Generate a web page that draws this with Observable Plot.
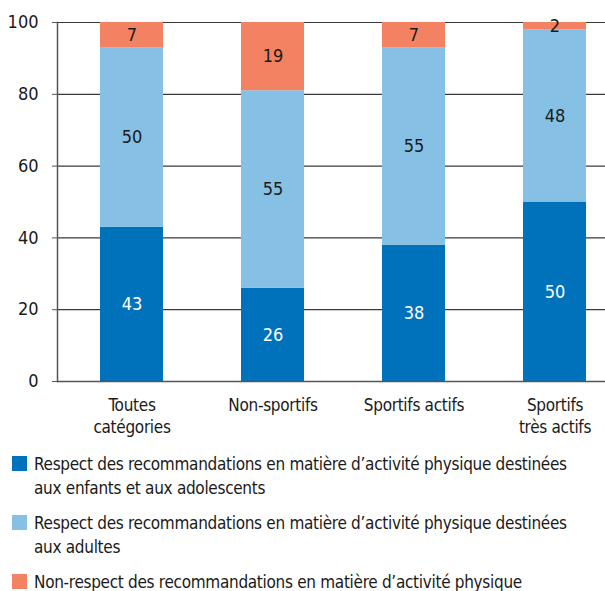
<!DOCTYPE html>
<html>
<head>
<meta charset="utf-8">
<script src="https://cdn.jsdelivr.net/npm/d3@7"></script>
<script src="https://cdn.jsdelivr.net/npm/@observablehq/plot@0.6"></script>
<style>
  body { margin: 0; background: #fff; }
  #chart { width: 605px; font-family: "DejaVu Sans Condensed", "Liberation Sans Narrow", "Open Sans", sans-serif; color: #1a1a1a; }
  .legend { margin-top: 2px; }
  .item { position: relative; padding-left: 34px; font-size: 17px; letter-spacing: -0.3px; line-height: 24px; white-space: nowrap; margin-bottom: 11px; }
  .sw { position: absolute; left: 12px; top: 4px; width: 15px; height: 15px; }
</style>
</head>
<body>
<div id="chart"></div>
<script>
const categories = ["Toutes catégories", "Non-sportifs", "Sportifs actifs", "Sportifs très actifs"];
const tickLabels = ["Toutes\ncatégories", "Non-sportifs", "Sportifs actifs", "Sportifs\ntrès actifs"];
const seriesNames = [
  "Respect des recommandations en matière d’activité physique destinées aux enfants et aux adolescents",
  "Respect des recommandations en matière d’activité physique destinées aux adultes",
  "Non-respect des recommandations en matière d’activité physique"
];
const legendLines = [
  ["Respect des recommandations en matière d’activité physique destinées", "aux enfants et aux adolescents"],
  ["Respect des recommandations en matière d’activité physique destinées", "aux adultes"],
  ["Non-respect des recommandations en matière d’activité physique"]
];
const enfants = [43, 26, 38, 50];
const adultes = [50, 55, 55, 48];
const nonRespect = [7, 19, 7, 2];
const yTicks = [0, 20, 40, 60, 80, 100];
const colors = ["#0072bc", "#86c1e5", "#f28262"];

const valuesBySeries = [enfants, adultes, nonRespect];
const data = [];
categories.forEach((c, i) => {
  seriesNames.forEach((s, j) => data.push({cat: c, series: s, value: valuesBySeries[j][i]}));
});

const font = '"DejaVu Sans Condensed", "Liberation Sans Narrow", "Open Sans", sans-serif';

const chart = Plot.plot({
  width: 605,
  height: 450,
  marginLeft: 57,
  marginRight: 0,
  marginTop: 22,
  marginBottom: 69,
  style: {fontFamily: font, fontSize: "17px", color: "#1a1a1a", background: "white"},
  x: {domain: categories, range: [28, 657], paddingInner: 0.555, paddingOuter: 0.5, axis: null},
  y: {domain: [0, 100], axis: null},
  color: {domain: seriesNames, range: colors},
  marks: [
    Plot.ruleY(yTicks.filter(d => d > 0), {stroke: "#3a3a3a", strokeWidth: 1.2}),
    Plot.barY(data, {x: "cat", y: "value", fill: "series", z: "series", order: seriesNames}),
    Plot.text(data, Plot.stackY({x: "cat", y: "value", z: "series", order: seriesNames,
      text: d => d.series === seriesNames[0] ? String(d.value) : "", fill: "white", fontSize: 18})),
    Plot.text(data, Plot.stackY({x: "cat", y: "value", z: "series", order: seriesNames,
      text: d => d.series !== seriesNames[0] ? String(d.value) : "", fill: "#1a1a1a", fontSize: 18})),
    Plot.ruleY([0], {stroke: "#555", strokeWidth: 1.5}),
    Plot.frame({anchor: "left", stroke: "#555", strokeWidth: 1.5}),
    Plot.axisY({ticks: yTicks, tickSize: 5, tickPadding: 14, stroke: "#555", label: null, fontSize: 18}),
    Plot.axisX({tickSize: 0, tickPadding: 14, label: null, fontSize: 17, lineHeight: 1.3,
      tickFormat: d => tickLabels[categories.indexOf(d)]})
  ]
});
chart.querySelectorAll("g[aria-label='x-axis tick label'] text").forEach(t => t.style.letterSpacing = "-0.3px");
document.getElementById("chart").appendChild(chart);

const legend = document.createElement("div");
legend.className = "legend";
seriesNames.forEach((s, j) => {
  const item = document.createElement("div");
  item.className = "item";
  const sw = document.createElement("span");
  sw.className = "sw";
  sw.style.background = colors[j];
  item.appendChild(sw);
  legendLines[j].forEach((line, k) => {
    if (k > 0) item.appendChild(document.createElement("br"));
    item.appendChild(document.createTextNode(line));
  });
  legend.appendChild(item);
});
document.getElementById("chart").appendChild(legend);
</script>
</body>
</html>
